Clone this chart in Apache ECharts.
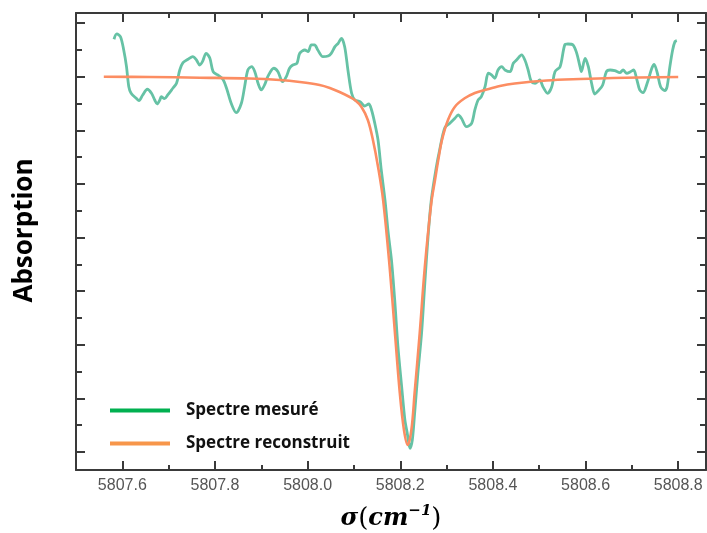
<!DOCTYPE html>
<html lang="fr">
<head>
<meta charset="utf-8">
<title>Spectre mesuré / reconstruit</title>
<script src="https://cdn.jsdelivr.net/npm/echarts@6/dist/echarts.min.js"></script>
<style>
  html, body { margin: 0; padding: 0; background: #fff; }
  #chart { width: 707px; height: 533px; }
</style>
</head>
<body>
<div id="chart"></div>
<script>
// --- données (unités arbitraires en y) ---
const mesureX = [
  5807.582, 5807.588, 5807.596, 5807.603, 5807.609, 5807.614, 5807.619, 5807.630, 5807.636, 5807.644,
  5807.654, 5807.663, 5807.670, 5807.675, 5807.681, 5807.684, 5807.691, 5807.698, 5807.709, 5807.717,
  5807.724, 5807.731, 5807.742, 5807.752, 5807.760, 5807.767, 5807.773, 5807.781, 5807.789, 5807.796,
  5807.806, 5807.817, 5807.825, 5807.835, 5807.846, 5807.857, 5807.864, 5807.871, 5807.879, 5807.886,
  5807.893, 5807.900, 5807.907, 5807.914, 5807.927, 5807.936, 5807.946, 5807.954, 5807.961, 5807.968,
  5807.977, 5807.983, 5807.994, 5808.001, 5808.008, 5808.015, 5808.022, 5808.033, 5808.044, 5808.051,
  5808.059, 5808.066, 5808.073, 5808.080, 5808.087, 5808.095, 5808.102, 5808.113, 5808.123, 5808.132,
  5808.138, 5808.145, 5808.152, 5808.159, 5808.167, 5808.174, 5808.181, 5808.188, 5808.195, 5808.203,
  5808.210, 5808.215, 5808.221, 5808.226, 5808.231, 5808.238, 5808.246, 5808.253, 5808.260, 5808.267,
  5808.278, 5808.285, 5808.296, 5808.307, 5808.318, 5808.325, 5808.332, 5808.343, 5808.354, 5808.361,
  5808.368, 5808.375, 5808.383, 5808.390, 5808.397, 5808.404, 5808.411, 5808.419, 5808.426, 5808.437,
  5808.444, 5808.451, 5808.462, 5808.469, 5808.476, 5808.483, 5808.491, 5808.501, 5808.508, 5808.518,
  5808.527, 5808.534, 5808.545, 5808.555, 5808.562, 5808.573, 5808.581, 5808.588, 5808.591, 5808.599,
  5808.606, 5808.613, 5808.620, 5808.629, 5808.637, 5808.645, 5808.653, 5808.663, 5808.674, 5808.681,
  5808.689, 5808.697, 5808.704, 5808.710, 5808.717, 5808.724, 5808.733, 5808.743, 5808.748, 5808.755,
  5808.762, 5808.771, 5808.776, 5808.782, 5808.788, 5808.793, 5808.797
]
const mesureY = [
  7.700, 7.799, 7.748, 7.500, 7.189, 6.815, 6.692, 6.599, 6.554, 6.661,
  6.767, 6.692, 6.567, 6.493, 6.567, 6.629, 6.592, 6.661, 6.786, 6.879,
  7.127, 7.263, 7.327, 7.375, 7.313, 7.220, 7.282, 7.438, 7.345, 7.095,
  7.034, 6.954, 6.786, 6.506, 6.330, 6.506, 6.815, 7.127, 7.189, 7.095,
  6.879, 6.754, 6.847, 7.002, 7.159, 7.095, 6.909, 7.002, 7.159, 7.220,
  7.252, 7.438, 7.500, 7.469, 7.594, 7.594, 7.500, 7.375, 7.388, 7.438,
  7.562, 7.625, 7.718, 7.562, 7.127, 6.692, 6.567, 6.536, 6.455, 6.493,
  6.381, 6.133, 5.821, 5.261, 4.701, 4.086, 3.582, 2.836, 1.965, 1.218,
  0.597, 0.354, 0.069, 0.224, 0.722, 1.468, 2.215, 3.147, 4.017, 4.701,
  5.323, 5.634, 6.045, 6.133, 6.226, 6.287, 6.226, 6.069, 6.133, 6.381,
  6.567, 6.629, 6.815, 7.066, 7.034, 6.972, 7.127, 7.189, 7.127, 7.095,
  7.252, 7.313, 7.407, 7.313, 7.127, 6.909, 6.879, 6.940, 6.815, 6.692,
  6.815, 7.095, 7.189, 7.594, 7.612, 7.594, 7.438, 7.189, 7.095, 7.345,
  7.189, 6.879, 6.679, 6.754, 6.847, 7.095, 7.127, 7.114, 7.077, 7.127,
  7.066, 7.095, 7.127, 6.972, 6.754, 6.704, 6.879, 7.159, 7.233, 7.066,
  6.815, 6.741, 6.815, 7.189, 7.500, 7.655, 7.674
]
const reconstruitX = [
  5807.560, 5807.659, 5807.767, 5807.875, 5807.940, 5807.983, 5808.026, 5808.048, 5808.069, 5808.091,
  5808.102, 5808.116, 5808.130, 5808.141, 5808.152, 5808.163, 5808.177, 5808.188, 5808.199, 5808.208,
  5808.216, 5808.224, 5808.231, 5808.242, 5808.253, 5808.267, 5808.275, 5808.282, 5808.290, 5808.303,
  5808.318, 5808.339, 5808.361, 5808.383, 5808.415, 5808.447, 5808.516, 5808.588, 5808.659, 5808.800
]
const reconstruitY = [
  7.002, 6.996, 6.983, 6.968, 6.940, 6.903, 6.847, 6.791, 6.716, 6.623,
  6.567, 6.442, 6.194, 5.821, 5.323, 4.701, 3.457, 2.276, 1.101, 0.410,
  0.131, 0.410, 1.101, 2.220, 3.451, 4.646, 5.075, 5.448, 5.821, 6.194,
  6.442, 6.599, 6.698, 6.754, 6.828, 6.875, 6.931, 6.959, 6.978, 6.996
]
const xTicksMajeurs = [5807.6, 5807.8, 5808.0, 5808.2, 5808.4, 5808.6, 5808.8]
const xTicksMineurs = [5807.7, 5807.9, 5808.1, 5808.3, 5808.5, 5808.7]
const yTicksMajeurs = [0, 1, 2, 3, 4, 5, 6, 7, 8]
const yTicksMineurs = [0.5, 1.5, 2.5, 3.5, 4.5, 5.5, 6.5, 7.5]

const X_MIN = 5807.5, X_MAX = 5808.86
const Y_MIN = -0.336, Y_MAX = 8.19
const AXE_COULEUR = '#3a3a3a'

// --- axes : cadre fermé, graduations vers l'intérieur ---
const axeX = (position, ticks, longueur, avecLabels, avecLigne) => ({
  type: 'value', position, min: X_MIN, max: X_MAX,
  axisLine: { show: avecLigne, onZero: false, lineStyle: { color: AXE_COULEUR, width: 2 } },
  axisTick: { show: true, inside: true, length: longueur, customValues: ticks, lineStyle: { color: AXE_COULEUR, width: 2 } },
  axisLabel: {
    show: avecLabels, customValues: ticks, formatter: v => v.toFixed(1),
    color: '#555', fontSize: 16, margin: 8, fontFamily: 'Liberation Sans'
  },
  splitLine: { show: false }
})
const axeY = (position, ticks, longueur, avecLigne) => ({
  type: 'value', position, min: Y_MIN, max: Y_MAX,
  axisLine: { show: avecLigne, onZero: false, lineStyle: { color: AXE_COULEUR, width: 2 } },
  axisTick: { show: true, inside: true, length: longueur, customValues: ticks, lineStyle: { color: AXE_COULEUR, width: 2 } },
  axisLabel: { show: false },
  splitLine: { show: false }
})

const xAxes = [
  axeX('bottom', xTicksMajeurs, 9, true, true),
  axeX('bottom', xTicksMineurs, 5, false, false),
  axeX('top', xTicksMajeurs, 9, false, true),
  axeX('top', xTicksMineurs, 5, false, false)
]
xAxes[0].name = '{i|σ}{p|(}{i|cm}{s|−1}{p|)}'
xAxes[0].nameLocation = 'middle'
xAxes[0].nameGap = 34
xAxes[0].nameTextStyle = {
  rich: {
    i: { fontFamily: 'DejaVu Serif', fontStyle: 'italic', fontWeight: 'bold', fontSize: 24, color: '#000', lineHeight: 30 },
    p: { fontFamily: 'DejaVu Serif', fontWeight: 'normal', fontSize: 26, color: '#000', lineHeight: 30 },
    s: { fontFamily: 'DejaVu Serif', fontStyle: 'italic', fontWeight: 'bold', fontSize: 15, color: '#000', verticalAlign: 'top', lineHeight: 30, padding: [0, 0, 12, 0] }
  }
}

const yAxes = [
  axeY('left', yTicksMajeurs, 9, true),
  axeY('left', yTicksMineurs, 6, false),
  axeY('right', yTicksMajeurs, 9, true),
  axeY('right', yTicksMineurs, 6, false)
]
yAxes[0].name = 'Absorption'
yAxes[0].nameLocation = 'middle'
yAxes[0].nameGap = 38
yAxes[0].nameTextStyle = {
  fontFamily: 'Open Sans', fontWeight: 'bold', fontSize: 26, color: '#000', padding: [0, 0, 0, 22]
}

const chart = echarts.init(document.getElementById('chart'), null, { renderer: 'canvas' })
chart.setOption({
  backgroundColor: '#fff',
  animation: false,
  // pas de réduction automatique de la grille : le titre de l'axe x touche le bas
  grid: { left: 76, right: 1, top: 13, bottom: 63, outerBoundsMode: 'none' },
  legend: {
    orient: 'vertical', left: 105, top: 397,
    icon: 'rect', itemWidth: 60, itemHeight: 4, itemGap: 16,
    textStyle: { fontFamily: 'Open Sans', fontWeight: 'bold', fontSize: 17, color: '#111', padding: [0, 0, 0, 11] },
    data: [
      { name: 'Spectre mesuré', itemStyle: { color: '#00b050' }, lineStyle: { color: '#00b050', width: 0 } },
      { name: 'Spectre reconstruit', itemStyle: { color: '#f7964a' }, lineStyle: { color: '#f7964a', width: 0 } }
    ]
  },
  xAxis: xAxes,
  yAxis: yAxes,
  series: [
    {
      name: 'Spectre mesuré', type: 'line', xAxisIndex: 0, yAxisIndex: 0,
      data: mesureX.map((x, i) => [x, mesureY[i]]),
      showSymbol: false, smooth: 0.3, z: 2,
      itemStyle: { color: '#66c2a5' },
      lineStyle: { color: '#66c2a5', width: 2.8 }
    },
    {
      name: 'Spectre reconstruit', type: 'line', xAxisIndex: 0, yAxisIndex: 0,
      data: reconstruitX.map((x, i) => [x, reconstruitY[i]]),
      showSymbol: false, smooth: 0.35, z: 3,
      itemStyle: { color: '#fc8d62' },
      lineStyle: { color: '#fc8d62', width: 2.6 }
    }
  ]
})
</script>
</body>
</html>
